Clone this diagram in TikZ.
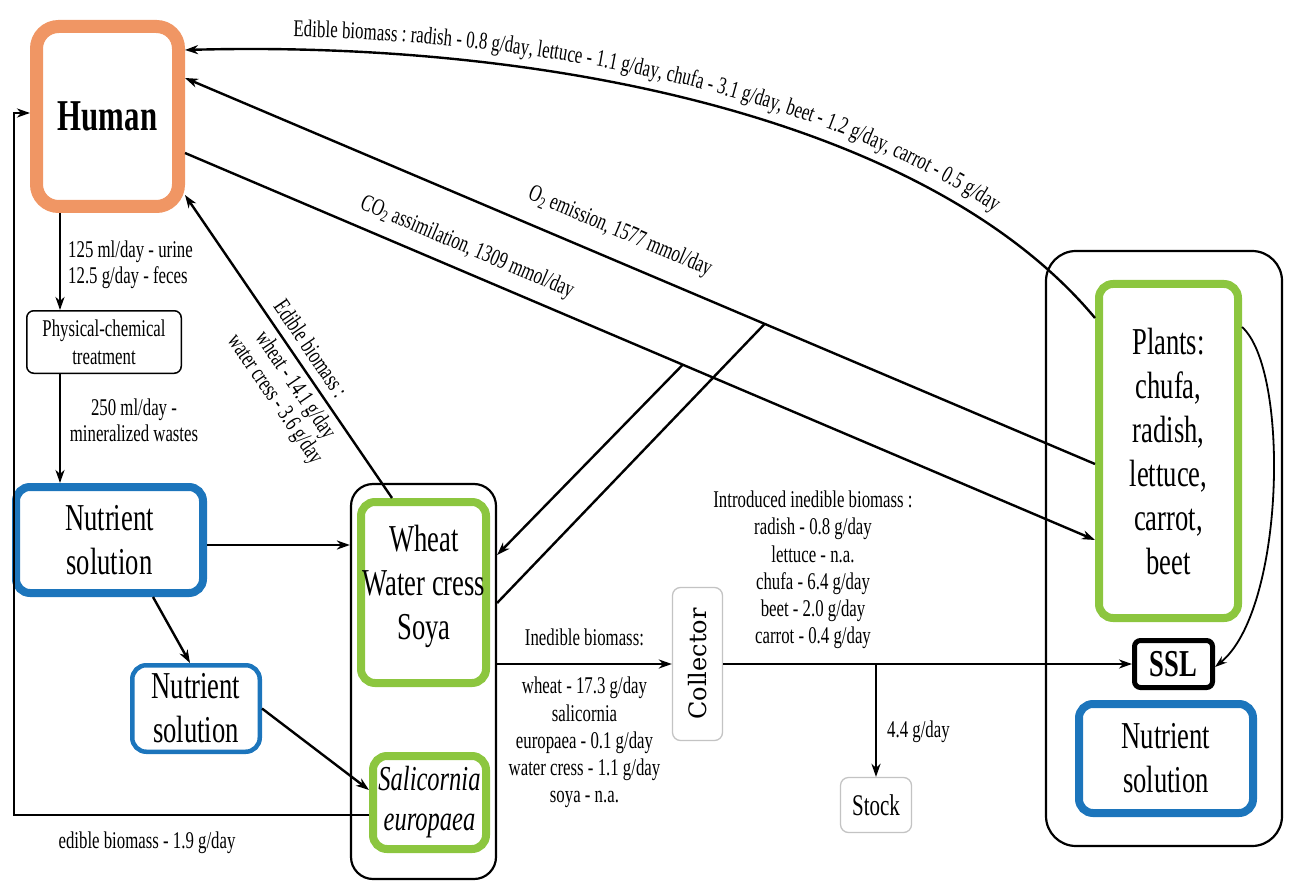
\documentclass[tikz,border=0pt]{standalone}
\usepackage{fontspec}
\usepackage{graphicx}
\setmainfont{Liberation Serif}[FakeStretch=0.7]
\newfontfamily\collfont{DejaVu Serif}
\usetikzlibrary{arrows.meta,decorations.text,calc}
\definecolor{horange}{RGB}{240,150,100}
\definecolor{pgreen}{RGB}{140,198,63}
\definecolor{nblue}{RGB}{28,117,188}
\definecolor{cgray}{RGB}{195,195,195}
\AtBeginDocument{\fontsize{24}{26}\selectfont}
\tikzset{
  conn/.style={line width=2.4pt},
  arr/.style={conn, -{Stealth[length=13pt,width=9pt,inset=4pt]}},
  rarr/.style={conn, {Stealth[length=13pt,width=9pt,inset=4pt]}-},
  thinarr/.style={line width=1.8pt, -{Stealth[length=12pt,width=8pt,inset=4pt]}},
  bigtxt/.style={font=\fontsize{38}{44}\selectfont, align=center},
  lbl/.style={font=\fontsize{24}{26}\selectfont, align=center, inner sep=2pt},
  humanbox/.style={draw=horange, line width=13pt, rounded corners=22pt, inner sep=0pt},
  bluebox/.style={draw=nblue, line width=8pt, rounded corners=14pt, inner sep=0pt, bigtxt},
  greenbox/.style={draw=pgreen, line width=8pt, rounded corners=14pt, inner sep=0pt, bigtxt},
  groupbox/.style={draw=black, line width=2.2pt, inner sep=0pt},
  thinbox/.style={draw=black, line width=1.5pt, rounded corners=7pt, inner sep=0pt},
  graybox/.style={draw=cgray, line width=1.3pt, rounded corners=8pt, inner sep=0pt},
}
\begin{document}
\begin{tikzpicture}[x=1pt,y=-1pt]
\useasboundingbox (0,0) rectangle (1289,890);

% ---- boxes ----
\node[humanbox, minimum width=142pt, minimum height=180pt] (human) at (107.5,116.5)
  {\fontsize{44}{50}\selectfont\bfseries Human};
\node[thinbox, minimum width=154.5pt, minimum height=62.5pt, align=center,
  font=\fontsize{24}{28}\selectfont] (phys) at (104,342) {Physical-chemical\\treatment};
\node[bluebox, minimum width=187pt, minimum height=106pt] (nut1) at (109.5,540) {Nutrient\\solution};
\node[bluebox, line width=4.5pt, minimum width=127.5pt, minimum height=86.5pt] (nut2) at (196,708.5) {Nutrient\\solution};

\node[groupbox, rounded corners=22pt, minimum width=145pt, minimum height=395pt] (group1) at (423.5,681.5) {};
\node[greenbox, minimum width=125pt, minimum height=181pt] (wheat) at (423.5,592.5) {};
\node[bigtxt] (wheattxt) at (424,586) {Wheat\\Water cress\\Soya};
\node[greenbox, minimum width=113pt, minimum height=93pt, font=\fontsize{35}{40}\selectfont\itshape] (sal) at (429.5,802.5) {Salicornia\\europaea};

\node[groupbox, rounded corners=30pt, minimum width=236pt, minimum height=595pt] (group2) at (1164,548.5) {};
\node[greenbox, minimum width=139pt, minimum height=334pt] (plants) at (1168.5,451) {Plants:\\chufa,\\radish,\\lettuce,\\carrot,\\beet};
\node[draw=black, line width=5pt, rounded corners=6pt, inner sep=0pt, minimum width=78pt, minimum height=47pt,
  font=\fontsize{38}{40}\selectfont\bfseries] (ssl) at (1173.5,664) {SSL};
\node[bluebox, minimum width=174pt, minimum height=109pt] (nut3) at (1166,758.5) {Nutrient\\solution};

\node[graybox, minimum width=50pt, minimum height=153pt] (coll) at (697.5,664)
  {\rotatebox{90}{\collfont\fontsize{24}{26}\selectfont Collector}};
\node[graybox, minimum width=71pt, minimum height=55pt, font=\fontsize{30}{32}\selectfont] (stock) at (876,805) {Stock};

% ---- free labels ----
\node[lbl, anchor=west, align=left] (urine) at (66,265) {125 ml/day - urine\\12.5 g/day - feces};
\node[lbl] (mineral) at (134,420) {250 ml/day -\\mineralized wastes};
\node[lbl] (edib19) at (147,843) {edible biomass - 1.9 g/day};
\node[lbl, font=\fontsize{24}{27.2}\selectfont] (intro) at (813,570)
  {Introduced inedible biomass :\\radish - 0.8 g/day\\lettuce - n.a.\\chufa - 6.4 g/day\\beet - 2.0 g/day\\carrot - 0.4 g/day};
\node[lbl, anchor=west] (l44) at (885,732) {4.4 g/day};

% ---- connectors ----
\draw[arr] ([xshift=-47.5pt]human.south) -- ([xshift=-44pt]phys.north);
\draw[arr] ([xshift=-44pt]phys.south) -- ([xshift=-49.5pt]nut1.north);
\draw[arr] ([yshift=-5pt]nut1.east) -- ([yshift=-5pt]nut1.east -| group1.west);
\draw[arr] ([xshift=43.5pt]nut1.south) -- ([xshift=-6pt]nut2.north);
\draw[arr] (nut2.east) -- ([yshift=12.5pt]sal.west);
\coordinate (fb) at (14,113);
\draw[arr] ([yshift=-12.5pt]sal.west) -| (fb) -- ([yshift=3.5pt]human.west);

% edible biomass from plants (curved)
\draw[rarr] ([yshift=66.5pt]human.east) .. controls (550,40) and (930,120) .. ([yshift=133pt]plants.west);
\path[decorate, decoration={text along path,
   text={Edible biomass : radish - 0.8 g/day, lettuce - 1.1 g/day, chufa - 3.1 g/day, beet - 1.2 g/day, carrot - 0.5 g/day},
   text align={left indent=108pt}, raise=13pt}]
  ([yshift=66.5pt]human.east) .. controls (550,40) and (930,120) .. ([yshift=133pt]plants.west);

% O2 emission
\draw[rarr] ([yshift=38.5pt]human.east) --
  node[lbl, sloped, above=14pt, pos=0.466] {O\textsubscript{2} emission, 1577 mmol/day}
  coordinate[pos=0.637] (o2pt)
  ([yshift=-13pt]plants.west);
% CO2 assimilation
\draw[arr] ([yshift=-36.5pt]human.east) --
  node[lbl, sloped, above=9pt, pos=0.300] {CO\textsubscript{2} assimilation, 1309 mmol/day}
  coordinate[pos=0.547] (co2pt)
  ([yshift=-89pt]plants.west);

% edible biomass wheat -> human
\draw[rarr] ([yshift=-78.5pt]human.east) --
  node[lbl, sloped, above=6pt, pos=0.539] {Edible biomass :}
  node[lbl, sloped, below=3pt, pos=0.598, font=\fontsize{24}{24.5}\selectfont] {wheat - 14.1 g/day\\water cress - 3.6 g/day}
  ([xshift=-31.5pt]wheat.north);

\draw[arr] (co2pt) -- ([yshift=126.5pt]group1.east);
\draw[conn] ([yshift=78.5pt]group1.east) -- (o2pt);

% inedible biomass
\draw[arr] (coll.west -| group1.east) --
  node[lbl, above=15pt] {Inedible biomass:}
  node[lbl, below=10pt, font=\fontsize{24}{27.2}\selectfont] {wheat - 17.3 g/day\\salicornia\\europaea - 0.1 g/day\\water cress - 1.1 g/day\\soya - n.a.}
  (coll.west);
\draw[arr] (coll.east) -- (ssl.west);
\draw[arr] (stock.north |- coll.east) -- (stock.north);

% plants -> SSL
\draw[thinarr] ([yshift=124pt]plants.east) .. controls (1290,370) and (1285,610) .. ([yshift=-3pt]ssl.east);
\end{tikzpicture}
\end{document}
